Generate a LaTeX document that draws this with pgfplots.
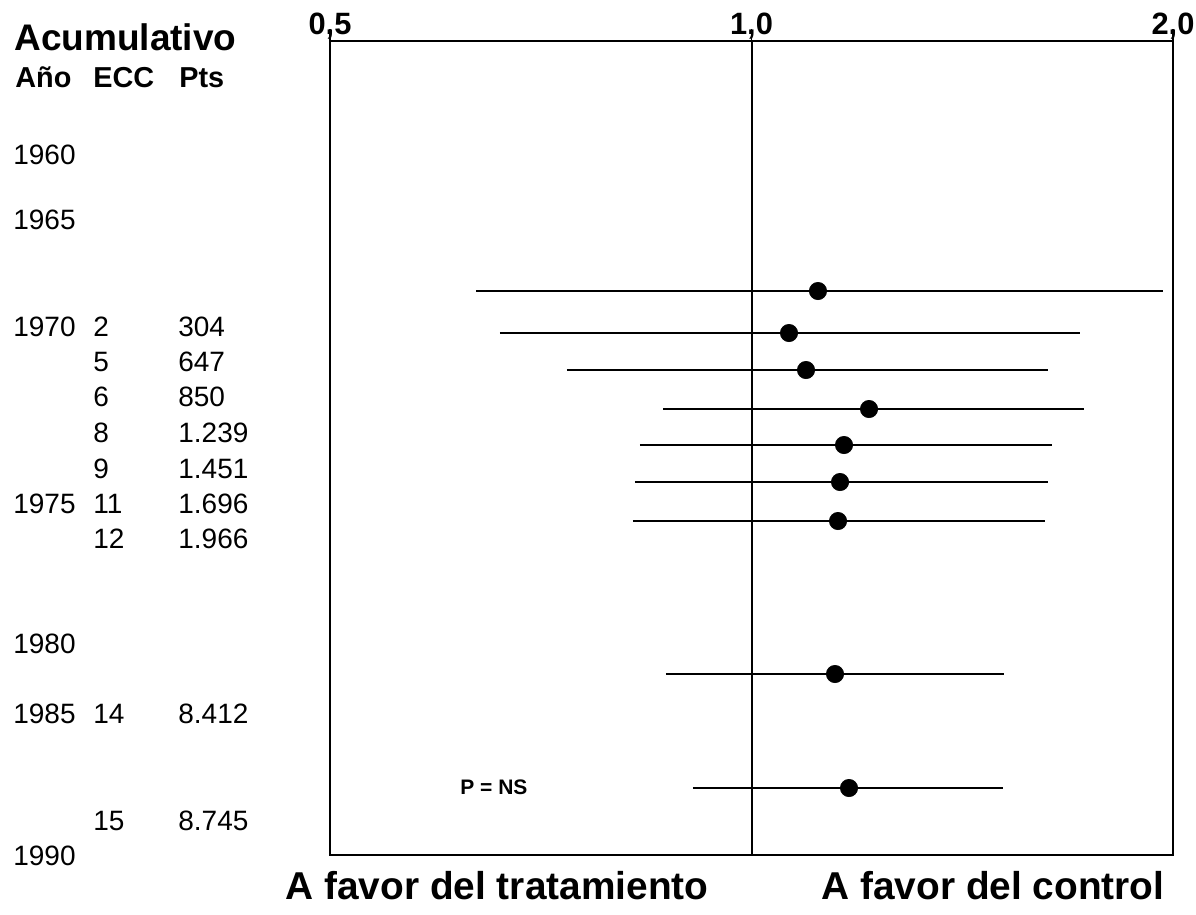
\documentclass[border=0pt]{standalone}
\usepackage{fontspec}
\setmainfont{Liberation Sans}
\newfontfamily\seriffont{Liberation Serif}
\usepackage{pgfplots}
\pgfplotsset{compat=1.18}
\def\u{0.6pt}
\newcommand\txt[3]{\node[anchor=base west, inner sep=0pt, font=\fontsize{16.8}{19}\selectfont] at ({#1*\u},{-#2*\u}) {#3};}
\begin{document}
\begin{tikzpicture}
\useasboundingbox (0,0) rectangle ({1196*\u},{-914*\u});
\begin{axis}[
  at={({330*\u},{-855*\u})}, anchor=south west,
  scale only axis, width={843*\u}, height={814*\u},
  xmode=log, xmin=0.5, xmax=2, ymin=41, ymax=855, y dir=reverse,
  axis line style={line width=1.6pt},
  xtick={0.5,1,2}, xticklabels={{0,5},{1,0},{2,0}},
  xtick pos=top, xticklabel pos=top, xminorticks=false,
  ytick=\empty,
  tick align=center, major tick length=14.4pt,
  major tick style={line width=0.9pt, black},
  xticklabel style={font=\fontsize{18.5}{18}\bfseries, anchor=base, inner sep=0pt},
  xticklabel shift=-3pt,
  clip=false,
]
\addplot[line width=1.2pt] coordinates {(1,41) (1,855)};
\addplot[line width=1.1pt] coordinates {(0.636,291) (1.967,291)};
\addplot[line width=1.1pt] coordinates {(0.6613,333) (1.7164,333)};
\addplot[line width=1.1pt] coordinates {(0.7383,370) (1.6284,370)};
\addplot[line width=1.1pt] coordinates {(0.8646,409) (1.7277,409)};
\addplot[line width=1.1pt] coordinates {(0.8324,445) (1.6391,445)};
\addplot[line width=1.1pt] coordinates {(0.8256,482) (1.6284,482)};
\addplot[line width=1.1pt] coordinates {(0.8229,521) (1.6204,521)};
\addplot[line width=1.1pt] coordinates {(0.8688,674) (1.5147,674)};
\addplot[line width=1.1pt] coordinates {(0.9082,788) (1.5122,788)};
\addplot[only marks, mark=*, mark size=5.2pt, black] coordinates {
 (1.1155,291) (1.0636,333) (1.0938,370) (1.2132,409) (1.1643,445)
 (1.1567,482) (1.1529,521) (1.1472,674) (1.1739,788)};
\end{axis}
\node[anchor=base west, inner sep=0pt, text=magenta, font=\fontsize{24}{26}\seriffont\bfseries] at ({239*\u},{13*\u}) {p};
\node[anchor=base west, inner sep=0pt, font=\fontsize{22.2}{24}\bfseries] at ({14*\u},{-50*\u}) {Acumulativo};
\node[anchor=base west, inner sep=0pt, font=\fontsize{17.3}{20}\bfseries] at ({15*\u},{-87*\u}) {Año};
\node[anchor=base west, inner sep=0pt, font=\fontsize{17.3}{20}\bfseries] at ({93*\u},{-87*\u}) {ECC};
\node[anchor=base west, inner sep=0pt, font=\fontsize{17.3}{20}\bfseries] at ({179*\u},{-87*\u}) {Pts};
\txt{13}{164}{1960}
\txt{13}{229}{1965}
\txt{13}{336}{1970}\txt{93}{336}{2}\txt{178}{336}{304}
\txt{93}{371}{5}\txt{178}{371}{647}
\txt{93}{406}{6}\txt{178}{406}{850}
\txt{93}{442}{8}\txt{178}{442}{1.239}
\txt{93}{478}{9}\txt{178}{478}{1.451}
\txt{13}{513}{1975}\txt{93}{513}{11}\txt{178}{513}{1.696}
\txt{93}{548}{12}\txt{178}{548}{1.966}
\txt{13}{653}{1980}
\txt{13}{723}{1985}\txt{93}{723}{14}\txt{178}{723}{8.412}
\txt{93}{830}{15}\txt{178}{830}{8.745}
\txt{13}{865}{1990}
\node[anchor=base west, inner sep=0pt, font=\fontsize{12.6}{14}\bfseries] at ({460*\u},{-794*\u}) {P = NS};
\node[anchor=base, inner sep=0pt, font=\fontsize{23.3}{26}\bfseries] at ({497*\u},{-899*\u}) {A favor del tratamiento};
\node[anchor=base, inner sep=0pt, font=\fontsize{23.3}{26}\bfseries] at ({993*\u},{-899*\u}) {A favor del control};
\end{tikzpicture}
\end{document}
